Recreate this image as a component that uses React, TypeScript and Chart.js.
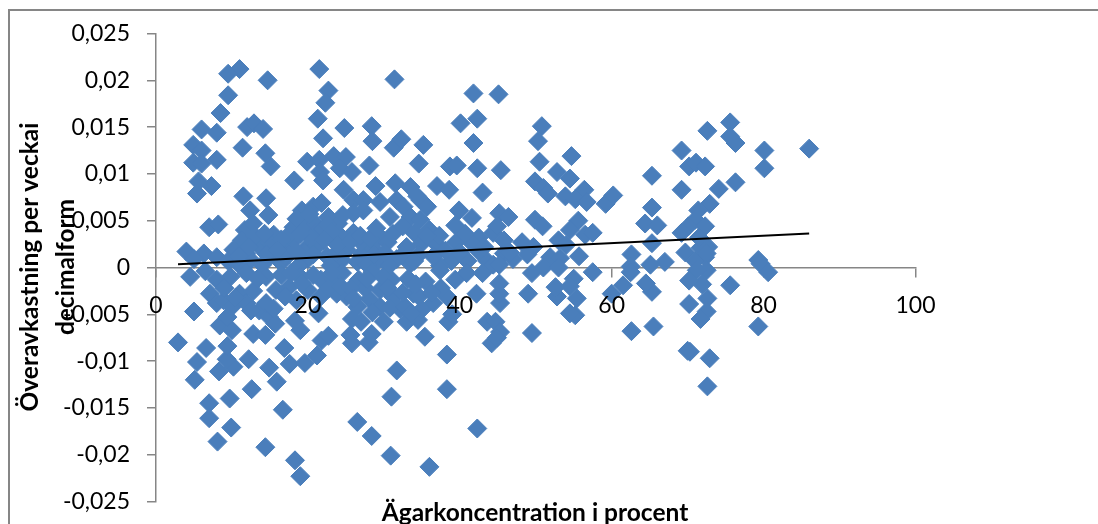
import React, { useEffect, useRef } from "react";
import { Chart, registerables } from "chart.js";

Chart.register(...registerables);

type Pt = [number, number];

const upperLeft: Pt[] = [
  [11,.0212],[9.5,.0207],[14.7,.02],[9.5,.0184],[8.5,.0165],[6,.01475],[8,.0144],[12,.015],[12.9,.0154],[14.1,.0148],
  [4.9,.0131],[6,.0125],[11.4,.0128],[14.4,.0122],[15.1,.0108],[4.9,.0112],[6,.0111],[8,.0115],[5.6,.0092],[7.3,.0087],
  [5.4,.0079],[11.5,.0076],[14.5,.0074],[7,.0043],[8.2,.0046],[12.4,.0061],[14.8,.0056],[18.2,.0093],[21.5,.0212],
  [22.7,.0189],[22.3,.0176],[21.3,.0159],[22,.0138],[24.8,.0149],[28.4,.0151],[28.5,.0135],[19.9,.0113],[21.5,.0115],
  [23.4,.0119],[25,.0118],[24.2,.0106],[25.8,.0102],[28.1,.0109],[21.6,.0102],[22,.0093],[24.7,.0083],[28.9,.0087],
  [26,.0072],[27.3,.0072],[27.3,.0061],[26,.0058],[29.5,.007],[30.8,.0054],[31.4,.0201],[31.3,.0128],[31.5,.009],[31.7,.0072],
];

const clusterLeft: Pt[] = [
  [19.2,.0061],[20.7,.0065],[21.8,.0069],[22.7,.0054],[24,.0047],[18.1,.0043],[19.9,.0047],[21,.0047],[15.5,.0035],
  [11.7,.004],[12.8,.0047],[11.3,.0029],[13.3,.0029],[10.2,.0019],[11.9,.0015],[13.9,.002],[16.8,.0022],[18.1,.0029],
  [19.9,.0022],[21.1,.0022],[21.1,.0037],[23.3,.0029],[26,.0037],[25.1,.0019],[27.1,.0015],[28.4,.0022],[30,.0009],
  [31.7,.0009],[4,.0017],[6.3,.0015],[8,.0011],[5,.0009],[9.5,.0007],[12.5,.0008],[15,.0012],[17.5,.0014],[20,.0009],
  [22.5,.0012],[24.5,.0008],[26.5,.0006],[29,.0005],[10.8,.0004],[14,.0003],[16.5,.0005],[18.8,.0002],[23,.0002],
  [27.8,.0003],[30.7,.0002],[13,.0034],[15,.0026],[17.5,.0035],[20.5,.0031],[22,.0041],[24.5,.0032],[27,.0027],[29.5,.0033],
  [30.5,.0027],[17,.0012],[19.5,.0016],[23.8,.0016],[28.8,.0014],[18.5,.0052],[20.2,.0057],[22.6,.0046],[23.2,.0038],
  [19,.0036],[16.5,.003],[14.3,.0036],[12.2,.0022],[10.9,.0012],[14.6,.0014],[16,.0018],[18.4,.0018],[20.7,.0014],
  [22.1,.0029],[24,.0024],[25.6,.0028],[26.9,.0034],[28.2,.0031],[29,.0042],[30.1,.0016],[31.2,.0036],[24.6,.0056],
];

const lowerLeft: Pt[] = [
  [2.9,-.008],[5,-.0047],[4.5,-.001],[6.6,-.0086],[5.4,-.0101],[5.1,-.012],[7,-.0145],[7,-.0161],[8.1,-.0186],[9.9,-.0171],
  [9.7,-.014],[12.6,-.013],[12.2,-.0098],[8.3,-.0111],[10.2,-.0106],[9.3,-.0098],[9.4,-.0084],[8.4,-.0062],[10,-.0067],
  [12.8,-.0071],[14.4,-.0072],[14.9,-.0107],[15.9,-.0122],[16.7,-.0152],[14.4,-.0192],[18.3,-.0206],[19,-.0223],[16.9,-.0086],
  [17.6,-.0103],[19.6,-.0102],[21.2,-.0094],[21.8,-.0078],[22.7,-.0073],[18.3,-.0057],[19,-.0067],[25.8,-.0055],[25.6,-.0072],
  [25.8,-.0081],[28,-.008],[28.4,-.0071],[31.7,-.011],[31,-.0138],[26.5,-.0165],[28.4,-.018],[30.9,-.0201],[21.4,-.0049],
];

const clusterBelow: Pt[] = [
  [7.1,-.0028],[8,-.0038],[9.4,-.0053],[8.9,-.0035],[10,-.0042],[11,-.0028],[11.9,-.0038],[13.6,-.0046],[14.9,-.0053],
  [15.7,-.006],[14.5,-.0038],[8,-.0013],[9.8,-.001],[11.9,-.0006],[14.5,-.001],[15.8,-.0024],[17.5,-.0021],[20,-.0024],
  [19,-.001],[21.7,-.0013],[21.7,-.0031],[23.4,-.0013],[25.1,-.0031],[26.7,-.0013],[28.1,-.0034],[29.5,-.0024],[31.2,-.0031],
  [29.5,-.0042],[31,-.0013],[32.1,-.0044],[6.5,-.0004],[9,-.0022],[12.8,-.0025],[16.5,-.0008],[18.5,-.0035],[23.8,-.0028],
  [24.5,-.0006],[27.5,-.0022],[28.5,-.0005],[29.9,-.001],[26.5,-.0042],[27,-.0058],[30,-.0058],[28.5,-.0048],
  [10.5,-.0032],[12.5,-.0046],[15.5,-.0044],[17,-.0031],[19.2,-.0017],[20.7,-.0008],[22.8,-.0022],[24.3,-.002],
  [25.7,-.0022],[27.8,-.0012],[30.5,-.0022],[26,-.0033],[30.8,-.0043],[23.2,-.0006],[17.8,-.0006],[13.4,-.0012],
];

const upperMiddle: Pt[] = [
  [41.8,.0186],[45.1,.0185],[40.1,.0154],[42.3,.0159],[41.8,.0133],[32.3,.0137],[35.2,.0131],[34.6,.0111],[33.5,.0086],
  [34.8,.0072],[37,.0087],[38.6,.0083],[38.7,.0108],[39.6,.0109],[42.3,.0106],[45.4,.0104],[43,.008],[39.9,.0061],[41.6,.0053],
  [39.4,.0045],[45.2,.0058],[46.4,.0054],[42.5,.0032],[39.5,.0027],[44.4,.0037],[45.8,.0029],[48.2,.0027],[49.9,.0051],
  [50.9,.0044],[49.7,.0022],[50.8,.0151],[50.3,.0135],[50.5,.0113],[54.7,.0119],[52.8,.0102],[54.5,.0095],[49.9,.0092],
  [51,.0085],[51.6,.0079],[53.9,.0076],[55.2,.0073],[56.4,.0083],[56.7,.007],[59.2,.0068],[60.2,.0077],[55.6,.005],[54.5,.004],
  [56.5,.0035],[53,.0029],[54,.0024],[55.7,.0012],[51.9,.0011],[53.2,.001],[32.6,.0065],[33.5,.0054],[35.7,.0065],[34.4,.0076],
  [34.8,.0051],[32.5,.0044],[36,.004],[34,.0037],[33,.0022],[35,.0026],[36.8,.0026],[38.9,.0007],[41,.0007],[43.6,.0007],
  [45.8,.0015],[33.5,.0004],[37.4,.0002],[44.4,.0003],[36.5,.0012],[34.5,.0013],[32.4,.0013],[40,.0016],[42.5,.0017],[47,.0009],
  [37.3,.0034],[38.1,.0018],[35.7,.0034],[41.6,.0026],[43.2,.0022],[40.7,.0036],[44.9,.0044],[46.6,.0016],[48.9,.0014],
];

const lowerMiddle: Pt[] = [
  [57.5,-.0005],[55.4,-.0033],[55.2,-.0051],[54.5,-.0049],[52.8,-.0031],[52.6,-.0021],[49,-.0028],[49.5,-.007],[49.5,-.0006],
  [51,0],[53,0],[55,-.0012],[54.5,-.002],[45.3,-.0038],[45.2,-.0028],[45.2,-.0017],[45.2,.0003],[43.6,-.0058],[44.7,-.0058],
  [45.3,-.0069],[44.2,-.0081],[44.9,-.0075],[42.2,-.0028],[39.4,-.0013],[37.4,-.0003],[40.9,-.0006],[43,-.0006],[38.3,-.0031],
  [38.5,-.0058],[35.4,-.0074],[38.3,-.0093],[38.3,-.013],[42.3,-.0172],[36,-.0213],[33.9,-.0028],[34.6,-.0031],
  [32.8,-.0042],[34.5,-.0056],[33,-.0058],[34,.0007],[35.5,-.0015],[36.5,-.0038],[33.2,-.0012],[35,-.0045],[37.5,-.0022],[39,-.005],
  [36.3,-.0027],[34.2,-.0018],[32.5,-.0027],[33.6,-.0049],
];

const upperRight: Pt[] = [
  [62.6,.0014],[65.3,.0098],[65.3,.0064],[64.4,.0047],[66,.0045],[65.3,.0026],[67,.0006],[65.1,.0003],[62.5,.0001],[69.2,.0125],
  [72.6,.0146],[75.6,.0155],[75.6,.014],[76.3,.0133],[80.1,.0125],[80.1,.0106],[86,.0127],[70.2,.0108],[71.1,.0112],[72.3,.0108],
  [69.2,.0083],[74.1,.0084],[76.3,.0091],[72.9,.0068],[71.4,.0061],[71,.0051],[72.3,.0044],[70.1,.0044],[69.2,.0037],[72.7,.0022],
  [71.7,.0021],[69.7,.0016],[72.3,.0011],[71,.0007],[79.3,.0008],[79.6,.0004],[71.5,.0032],[72.5,.0015],[57.5,.0037],
];

const lowerRight: Pt[] = [
  [80.6,-.0005],[75.6,-.0019],[72.5,-.0003],[71.2,-.0003],[71.9,-.0018],[70.2,-.0014],[72.6,-.0033],[70.2,-.0039],[72.5,-.0047],
  [71.7,-.0055],[79.3,-.0063],[70.3,-.009],[70,-.0089],[72.9,-.0097],[72.6,-.0127],[65.5,-.0063],[62.6,-.0068],[65.3,-.0026],
  [64.5,-.0017],[62.5,-.0005],[61.5,-.0019],[60,-.0028],
];

const allPoints: Pt[] = [
  ...upperLeft, ...clusterLeft, ...lowerLeft, ...clusterBelow,
  ...upperMiddle, ...lowerMiddle, ...upperRight, ...lowerRight,
];

const trendX = [2.9, 86];
const trendY = [0.00036, 0.00364];

const xTickStep = 20;
const yTickStep = 0.005;
const xTitle = "Ägarkoncentration i procent";
const yTitle = ["Överavkastning per veckai", "decimalform"];

const FONT = "Lato, 'Open Sans', sans-serif";
const AXIS = "#868686";

const titles = {
  id: "titles",
  afterDraw(chart: Chart) {
    const c = chart.ctx;
    c.save();
    c.fillStyle = "#000";
    c.font = `bold 24.5px ${FONT}`;
    c.textAlign = "center";
    c.textBaseline = "middle";
    c.fillText(xTitle, 535, 513);
    c.translate(0, 267);
    c.rotate(-Math.PI / 2);
    c.fillText(yTitle[0], 0, 30);
    c.fillText(yTitle[1], 0, 66);
    c.restore();
  },
};

const noMargins = (s: any) => {
  s.paddingTop = 0;
  s.paddingBottom = 0;
  s.paddingLeft = 0;
  s.paddingRight = 0;
};

export default function App() {
  const ref = useRef<HTMLCanvasElement>(null);
  useEffect(() => {
    const chart = new Chart(ref.current!, {
      type: "scatter",
      data: {
        datasets: [
          {
            data: trendX.map((x, i) => ({ x, y: trendY[i] })),
            showLine: true,
            borderColor: "#000",
            borderWidth: 2,
            pointRadius: 0,
            order: 0,
          },
          {
            data: allPoints.map(([x, y]) => ({ x, y })),
            pointStyle: "rectRot",
            pointRadius: 9.5,
            backgroundColor: "#4A7EBB",
            borderColor: "#4A7EBB",
            borderWidth: 1,
            order: 1,
          },
        ],
      },
      plugins: [titles],
      options: {
        animation: false,
        responsive: false,
        layout: { autoPadding: false, padding: { left: 0, top: 33.5, right: 182.5, bottom: 22.5 } },
        plugins: { legend: { display: false }, tooltip: { enabled: false } },
        scales: {
          x: {
            type: "linear",
            position: { y: 0 },
            min: 0,
            max: 100,
            afterFit: (s: any) => { s.height = 0; noMargins(s); },
            grid: { drawOnChartArea: false, tickLength: 9, color: AXIS, lineWidth: 1.5 },
            border: { color: AXIS, width: 1.5 },
            ticks: {
              stepSize: xTickStep,
              padding: 15,
              maxRotation: 0,
              color: "#000",
              z: 1,
              font: { family: FONT, size: 23 },
            },
          },
          y: {
            type: "linear",
            position: "left",
            min: -0.025,
            max: 0.025,
            afterFit: (s: any) => { s.width = 156; noMargins(s); },
            grid: { drawOnChartArea: false, tickLength: 9, color: AXIS, lineWidth: 1.5 },
            border: { color: AXIS, width: 1.5 },
            ticks: {
              stepSize: yTickStep,
              padding: 17,
              color: "#000",
              z: 1,
              font: { family: FONT, size: 23 },
              callback: (v: any) => String(+Number(v).toFixed(3)).replace(".", ","),
            },
          },
        },
      },
    } as any);
    return () => chart.destroy();
  }, []);
  return (
    <div style={{ position: "fixed", left: 0, top: 0, width: 1098, height: 524, background: "#fff" }}>
      <div style={{ position: "absolute", left: 8, top: 9, right: 0, bottom: 0, borderLeft: `2px solid ${AXIS}`, borderTop: `2px solid ${AXIS}` }} />
      <canvas ref={ref} width={1098} height={524} style={{ position: "absolute", left: 0, top: 0, display: "block" }} />
    </div>
  );
}
